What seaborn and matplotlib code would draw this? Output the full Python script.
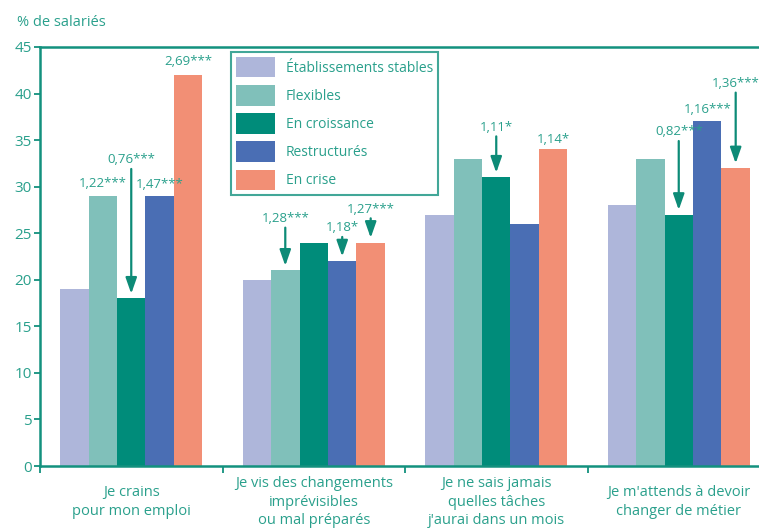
import seaborn as sns
import pandas as pd
import numpy as np
import matplotlib.pyplot as plt
from matplotlib.patches import Patch

sns.set_theme(style='white')
plt.rcParams['font.family'] = ['Open Sans', 'DejaVu Sans']

teal_text = '#2aa08c'
teal_line = '#13917e'
arrow_col = '#0d8b77'

categories = ['Je crains\npour mon emploi',
              'Je vis des changements\nimprévisibles\nou mal préparés',
              'Je ne sais jamais\nquelles tâches\nj\'aurai dans un mois',
              'Je m\'attends à devoir\nchanger de métier']
series = ['Établissements stables', 'Flexibles', 'En croissance', 'Restructurés', 'En crise']
colors = ['#aeb6da', '#80c0ba', '#008c7a', '#4a6eb4', '#f28f75']

stables = [19, 20, 27, 28]
flexibles = [29, 21, 33, 33]
croissance = [18, 24, 31, 27]
restructures = [29, 22, 26, 37]
crise = [42, 24, 34, 32]

# odds ratios: (category, series, label, text height, arrow?)
odds = [
    (0, 4, '2,69***', 43.4, False),
    (0, 1, '1,22***', 30.3, False),
    (0, 2, '0,76***', 32.9, True),
    (0, 3, '1,47***', 30.2, False),
    (1, 1, '1,28***', 26.6, True),
    (1, 3, '1,18*', 25.6, True),
    (1, 4, '1,27***', 27.6, True),
    (2, 2, '1,11*', 36.4, True),
    (2, 4, '1,14*', 35.1, False),
    (3, 2, '0,82***', 35.9, True),
    (3, 3, '1,16***', 38.3, False),
    (3, 4, '1,36***', 41.1, True),
]

values = [stables, flexibles, croissance, restructures, crise]
df = pd.DataFrame({
    'Catégorie': np.tile(categories, len(series)),
    'Type': np.repeat(series, len(categories)),
    'Valeur': np.concatenate(values),
})

fig = plt.figure(figsize=(7.59, 5.31), dpi=100)
ax = fig.add_axes([40 / 759, 1 - 466 / 531, 730 / 759, 419 / 531])

width = 0.78
sns.barplot(data=df, x='Catégorie', y='Valeur', hue='Type', order=categories,
            hue_order=series, palette=colors, saturation=1, width=width, gap=0,
            linewidth=0, edgecolor='none', legend=False, ax=ax)

ax.set_xlim(-0.5, 3.5)
ax.set_ylim(0, 45)
ax.set_yticks(range(0, 46, 5))
ax.set_xlabel('')
ax.set_ylabel('')

for s in ['left', 'bottom', 'top', 'right']:
    ax.spines[s].set_color(teal_line)
    ax.spines[s].set_linewidth(1.8)

ax.tick_params(axis='y', which='major', length=4, width=1.3, color=teal_line,
               direction='out', labelcolor=teal_text, labelsize=11, pad=2, left=True)
ax.tick_params(axis='x', which='major', length=0, labelcolor=teal_text,
               labelsize=10.5, pad=26)
ax.set_xticks([-0.5, 0.5, 1.5, 2.5], minor=True)
ax.tick_params(axis='x', which='minor', length=5, width=1.3, color=teal_line,
               direction='out', bottom=True)
for lab in ax.get_xticklabels():
    lab.set_verticalalignment('center')
    lab.set_linespacing(1.3)

step = width / len(series)
for cat, ser, label, ty, arrow in odds:
    x = cat + (ser - 2) * step
    ax.text(x, ty, label, ha='center', va='center', color=teal_text, fontsize=9.5)
    if arrow:
        top = values[ser][cat]
        ax.annotate('', xy=(x, top + 0.5), xytext=(x, ty - 1.0),
                    arrowprops=dict(arrowstyle='-|>,head_length=0.8,head_width=0.28',
                                    color=arrow_col, lw=1.6, shrinkA=0, shrinkB=0))

handles = [Patch(facecolor=c, edgecolor='none', label=s) for c, s in zip(colors, series)]
leg = ax.legend(handles=handles, loc='upper left', bbox_to_anchor=(0.2616, 0.988),
                borderaxespad=0, fontsize=10, frameon=True, fancybox=False,
                handlelength=2.8, handleheight=1.9, labelspacing=0.55,
                handletextpad=0.8, borderpad=0.35, labelcolor=teal_text)
leg.get_frame().set_edgecolor(teal_line)
leg.get_frame().set_linewidth(1.5)

fig.text(17 / 759, 1 - 22 / 531, '% de salariés', ha='left', va='center',
         color=teal_text, fontsize=10.5)

fig.savefig('out.png', dpi=100)
